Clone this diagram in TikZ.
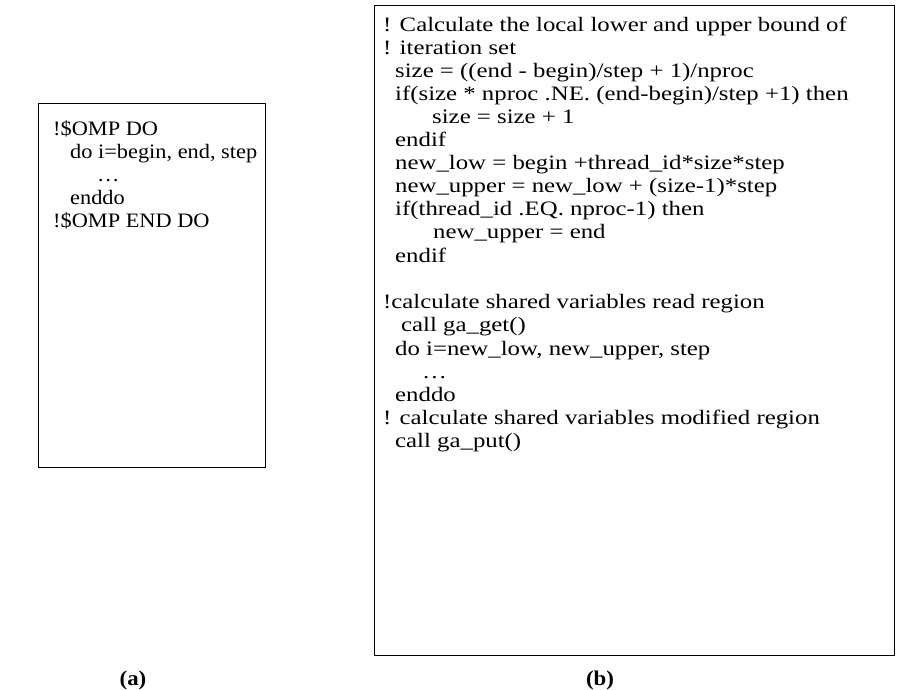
\documentclass[tikz,border=0pt]{standalone}
\usepackage{fontspec}
\setmainfont{Liberation Serif}
\newfontfamily\codefonta[FakeStretch=1.09]{Liberation Serif}
\newfontfamily\codefontb[FakeStretch=1.21]{Liberation Serif}
\usetikzlibrary{positioning}

\begin{document}
\begin{tikzpicture}[x=1pt,y=-1pt,
    frame/.style={draw,line width=1.2pt,inner sep=0pt,anchor=north west},
    codeline/.style={anchor=base west,inner sep=0pt},
    linea/.style={codeline,font=\codefonta\fontsize{20.5}{23}\selectfont},
    lineb/.style={codeline,font=\codefontb\fontsize{20.5}{23}\selectfont},
    caption/.style={inner sep=0pt,font=\codefonta\bfseries\fontsize{21}{23}\selectfont}]
        \useasboundingbox (0,0) rectangle (914,690);

        % (a) the original loop
        \node[frame,minimum width=227pt,minimum height=364pt] (boxa) at (38,103) {};
        \node[linea] (a1) at (53,136) {!\$OMP DO};
        \node[linea] (a2) at (70,159) {do i=begin, end, step};
        \node[linea] (a3) at (97,182) {…};
        \node[linea] (a4) at (70,205) {enddo};
        \node[linea] (a5) at (53,228) {!\$OMP END DO};

        % (b) the translated loop
        \node[frame,minimum width=520pt,minimum height=650pt] (boxb) at (374,5) {};
        \node[lineb] (b1) at (383,32) {! Calculate the local lower and upper bound of};
        \node[lineb] (b2) at (383,55) {! iteration set};
        \node[lineb] (b3) at (395,78) {size = ((end - begin)/step + 1)/nproc};
        \node[lineb] (b4) at (395,101) {if(size * nproc .NE. (end-begin)/step +1) then};
        \node[lineb] (b5) at (432,124) {size = size + 1};
        \node[lineb] (b6) at (395,147) {endif};
        \node[lineb] (b7) at (395,170) {new\_low = begin +thread\_id*size*step};
        \node[lineb] (b8) at (395,193) {new\_upper = new\_low + (size-1)*step};
        \node[lineb] (b9) at (395,216) {if(thread\_id .EQ. nproc-1) then};
        \node[lineb] (b10) at (433,239) {new\_upper = end};
        \node[lineb] (b11) at (395,262) {endif};
        \node[lineb] (b12) at (383,308) {!calculate shared variables read region};
        \node[lineb] (b13) at (401,331) {call ga\_get()};
        \node[lineb] (b14) at (395,355) {do i=new\_low, new\_upper, step};
        \node[lineb] (b15) at (422,378) {…};
        \node[lineb] (b16) at (395,401) {enddo};
        \node[lineb] (b17) at (383,424) {! calculate shared variables modified region};
        \node[lineb] (b18) at (395,447) {call ga\_put()};

        % captions
        \node[caption] (capa) at (133,680) {(a)};
        \node[caption] (capb) at (600,680) {(b)};
    \end{tikzpicture}
\end{document}
